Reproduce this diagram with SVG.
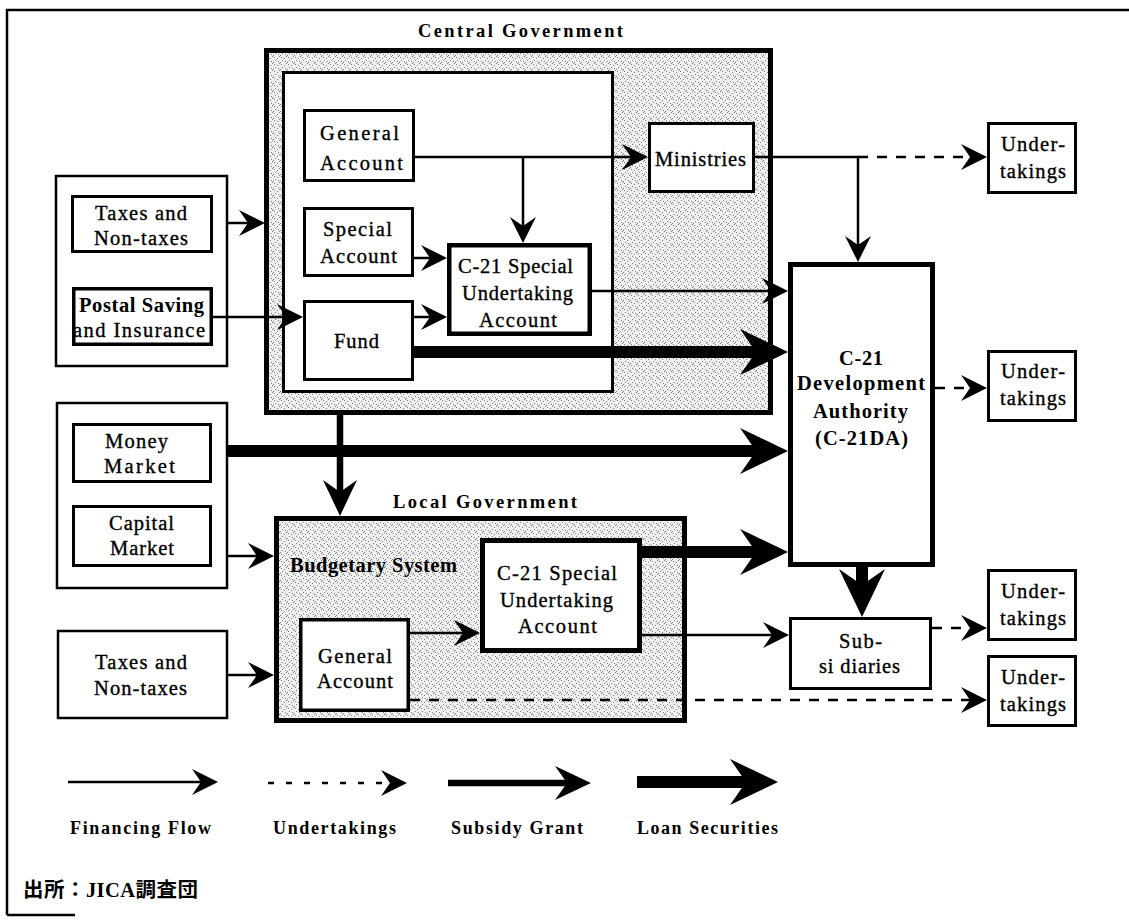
<svg xmlns="http://www.w3.org/2000/svg" width="1129" height="920" viewBox="0 0 1129 920">
<defs>
<pattern id="stip" width="7" height="7" patternUnits="userSpaceOnUse">
<rect width="7" height="7" fill="#f0f0f0"/>
<path d="M1 1h1v1h-1zM4 2h1v1h-1zM2 4h1v1h-1zM5 5h1v1h-1zM0 6h1v1h-1zM6 0h1v1h-1z" fill="#7a7a7a"/>
</pattern>
<marker id="ahT" markerUnits="userSpaceOnUse" markerWidth="28" markerHeight="28" viewBox="-27 -14 28 28" refX="-17" refY="0" orient="auto"><path d="M0,0 L-26,-13 L-17,0 L-26,13 Z" fill="#000"/></marker>
<marker id="ahM" markerUnits="userSpaceOnUse" markerWidth="38" markerHeight="36" viewBox="-37 -18 38 36" refX="-24" refY="0" orient="auto"><path d="M0,0 L-36,-17 L-24,0 L-36,17 Z" fill="#000"/></marker>
<marker id="ahK" markerUnits="userSpaceOnUse" markerWidth="50" markerHeight="48" viewBox="-49 -24 50 48" refX="-32" refY="0" orient="auto"><path d="M0,0 L-48,-23 L-32,0 L-48,23 Z" fill="#000"/></marker>
</defs>
<style>
.box{fill:#fff;stroke:#000;stroke-width:3}
.grp{fill:#fff;stroke:#000;stroke-width:2.5}
.stp{fill:url(#stip);stroke:#000;stroke-width:5}
text{font-family:"Liberation Serif","Times New Roman",serif;font-size:20.5px;fill:#000;stroke:#000;stroke-width:0.35;text-anchor:middle}
.b{font-weight:bold;stroke-width:0}
.ttl{font-weight:bold;font-size:18.5px;stroke-width:0;text-anchor:start}
.lg{font-weight:bold;font-size:18px;stroke-width:0}
.thin{fill:none;stroke:#000;stroke-width:2.5;marker-end:url(#ahT)}
.dash{stroke-dasharray:10 9}
.med{fill:none;stroke:#000;stroke-width:6.5;marker-end:url(#ahM)}
.thick{fill:none;stroke:#000;stroke-width:12;marker-end:url(#ahK)}
</style>
<rect width="1129" height="920" fill="#fff"/>
<g id="frame" fill="none" stroke="#000" stroke-width="2.5">
<path d="M7,915 V10 H1129"/>
<path d="M7,915 H75"/>
</g>

<g id="sources-top">
<rect class="grp" x="56" y="176" width="171" height="190"/>
</g>
<g id="taxes-top">
<rect class="box" x="72.5" y="196.5" width="139" height="55"/>
<text x="141" y="220" textLength="92">Taxes and</text>
<text x="141" y="245" textLength="94">Non-taxes</text>
</g>
<g id="postal">
<rect class="box" x="73.75" y="288.75" width="137.5" height="55.5" style="stroke-width:3.5"/>
<text class="b" x="141.5" y="312" textLength="125">Postal Saving</text>
<text x="139" y="337" textLength="132">and Insurance</text>
</g>

<g id="markets">
<rect class="grp" x="57" y="403" width="170" height="185"/>
</g>
<g id="money-market">
<rect class="box" x="73.5" y="424.5" width="137" height="57"/>
<text x="136.5" y="448" textLength="63">Money</text>
<text x="139.5" y="473" textLength="71">Market</text>
</g>
<g id="capital-market">
<rect class="box" x="73.5" y="506.5" width="137" height="59"/>
<text x="141.5" y="530" textLength="65">Capital</text>
<text x="142" y="555" textLength="64">Market</text>
</g>
<g id="taxes-bottom">
<rect class="grp" x="58" y="631" width="169" height="87"/>
<text x="141" y="669" textLength="92">Taxes and</text>
<text x="140.5" y="695" textLength="93">Non-taxes</text>
</g>

<g id="central-government">
<text class="ttl" x="418" y="37" textLength="205">Central Government</text>
<rect class="stp" x="266.5" y="50.5" width="504" height="362"/>
<rect class="box" x="283.5" y="72.5" width="329" height="319"/>
</g>
<g id="general-account">
<rect class="box" x="304.5" y="110.5" width="109" height="70"/>
<text x="359.5" y="140" textLength="79">General</text>
<text x="361.5" y="170" textLength="83">Account</text>
</g>
<g id="special-account">
<rect class="box" x="304.5" y="208.5" width="108" height="67"/>
<text x="357.5" y="236" textLength="69">Special</text>
<text x="358.5" y="263" textLength="77">Account</text>
</g>
<g id="fund">
<rect class="box" x="304.5" y="301.5" width="108" height="78"/>
<text x="356.5" y="348" textLength="45">Fund</text>
</g>
<g id="c21-special-central">
<rect class="box" x="449.25" y="245.25" width="140.5" height="88.5" style="stroke-width:4.5"/>
<text x="515.5" y="273" textLength="115">C-21 Special</text>
<text x="517.5" y="300" textLength="111">Undertaking</text>
<text x="518" y="327" textLength="78">Account</text>
</g>
<g id="ministries">
<rect class="box" x="649.5" y="123.5" width="104" height="68"/>
<text x="700.5" y="166" textLength="91">Ministries</text>
</g>

<g id="local-government">
<text class="ttl" x="393" y="508" textLength="184">Local Government</text>
<rect class="stp" x="276.5" y="518.5" width="408" height="202"/>
<text class="b" x="290" y="572" textLength="167" style="text-anchor:start">Budgetary System</text>
</g>
<g id="local-general-account">
<rect class="box" x="300.75" y="619.75" width="107.5" height="90.5" style="stroke-width:3.5"/>
<text x="355" y="663" textLength="74">General</text>
<text x="355" y="688" textLength="76">Account</text>
</g>
<g id="c21-special-local">
<rect class="box" x="482.5" y="540.5" width="157" height="110" style="stroke-width:5"/>
<text x="557" y="580" textLength="120">C-21 Special</text>
<text x="556.5" y="607" textLength="113">Undertaking</text>
<text x="557.5" y="633" textLength="79">Account</text>
</g>

<g id="c21da">
<rect class="box" x="790.5" y="264.5" width="142" height="300" style="stroke-width:5"/>
<text class="b" x="861" y="365" textLength="44">C-21</text>
<text class="b" x="861" y="390" textLength="128">Development</text>
<text class="b" x="860.5" y="418" textLength="95">Authority</text>
<text class="b" x="861.5" y="445" textLength="93">(C-21DA)</text>
</g>
<g id="subsidiaries">
<rect class="box" x="790.5" y="618.5" width="140" height="70"/>
<text x="860.5" y="648" textLength="43">Sub-</text>
<text x="859.5" y="673" textLength="81">si diaries</text>
</g>
<g id="undertakings-1">
<rect class="box" x="988.5" y="123.5" width="87" height="69"/>
<text x="1033" y="151" textLength="64">Under-</text>
<text x="1033" y="178" textLength="66">takings</text>
</g>
<g id="undertakings-2">
<rect class="box" x="988.5" y="351.5" width="87" height="69"/>
<text x="1033" y="378" textLength="64">Under-</text>
<text x="1033" y="405" textLength="66">takings</text>
</g>
<g id="undertakings-3">
<rect class="box" x="988.5" y="570.5" width="87" height="69"/>
<text x="1033" y="598" textLength="64">Under-</text>
<text x="1033" y="625" textLength="66">takings</text>
</g>
<g id="undertakings-4">
<rect class="box" x="988.5" y="656.5" width="87" height="69"/>
<text x="1033" y="684" textLength="64">Under-</text>
<text x="1033" y="711" textLength="66">takings</text>
</g>

<g id="connectors">
<path class="thin" d="M228,223 H248"/>
<path class="thin" d="M213,317 H286"/>
<path class="thin" d="M415,157 H631"/>
<path class="thin" d="M523,157 V226"/>
<path class="thin" d="M414,258 H430"/>
<path class="thin" d="M414,317 H430"/>
<path class="thin" d="M592,291 H771"/>
<path class="thin" d="M755,157 H858 V245"/>
<path class="thin" d="M228,556 H257"/>
<path class="thin" d="M228,675 H257"/>
<path class="thin" d="M410,633 H463"/>
<path class="thin" d="M642,635 H772"/>
<path class="thin dash" d="M858,157 H970"/>
<path class="thin dash" d="M935,388 H970"/>
<path class="thin dash" d="M932,628 H970"/>
<path class="thin dash" d="M410,700 H970"/>
<path class="med" d="M340,415 V492"/>
<path class="thick" d="M414,352 H756"/>
<path class="thick" d="M228,451 H756"/>
<path class="thick" d="M642,552 H756"/>
<path class="thick" d="M862,567 V585"/>
</g>

<g id="legend">
<path class="thin" d="M68,782 H201"/>
<path class="thin" d="M268,783 H390" style="stroke-dasharray:6 12"/>
<path class="med" d="M448,783 H567"/>
<path class="thick" d="M637,782 H746"/>
<text class="lg" x="140.5" y="834" textLength="141">Financing Flow</text>
<text class="lg" x="334.5" y="834" textLength="123">Undertakings</text>
<text class="lg" x="517" y="834" textLength="132">Subsidy Grant</text>
<text class="lg" x="707.5" y="834" textLength="141">Loan Securities</text>
</g>
<g id="source-note">
<text class="b" x="23" y="897" textLength="175" style="text-anchor:start;font-family:'Liberation Serif','Noto Sans CJK JP',serif">出所：JICA調査団</text>
</g>
</svg>
